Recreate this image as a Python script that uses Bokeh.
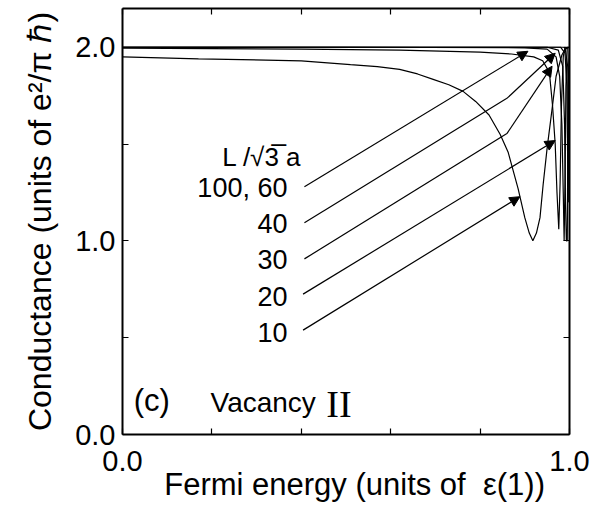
from bokeh.plotting import figure
from bokeh.models import (Range1d, FixedTicker, LinearAxis, PrintfTickFormatter,
                          Label, Arrow, NormalHead, ColumnDataSource)
from bokeh.embed import file_html
from bokeh.resources import INLINE

# ---- data ----
E10 = [0.0, 0.17, 0.4, 0.51, 0.57, 0.62, 0.66, 0.695, 0.73, 0.762, 0.79, 0.82, 0.845, 0.863,
       0.885, 0.90, 0.91, 0.918, 0.926, 0.934, 0.941, 0.95, 0.961, 0.97, 0.983, 0.99, 1.0]
G10 = [1.95, 1.94, 1.93, 1.91, 1.90, 1.886, 1.862, 1.834, 1.806, 1.772, 1.72, 1.65, 1.549, 1.456,
       1.27, 1.12, 1.04, 1.0, 1.04, 1.12, 1.29, 1.48, 1.68, 1.85, 1.96, 1.99, 2.0]

E20 = [0.0, 0.2, 0.4, 0.62, 0.8, 0.87, 0.92, 0.94, 0.955, 0.962, 0.968, 0.972, 0.976,
       0.979, 0.982, 0.986, 0.99, 1.0]
G20 = [1.995, 1.993, 1.99, 1.985, 1.975, 1.965, 1.95, 1.93, 1.87, 1.70, 1.50, 1.25, 1.06,
       1.30, 1.70, 1.95, 2.0, 2.0]

E30 = [0.0, 0.5, 0.9, 0.95, 0.97, 0.978, 0.983, 0.986, 0.988, 0.990, 0.992, 0.995, 1.0]
G30 = [2.0, 2.0, 1.997, 1.99, 1.95, 1.85, 1.60, 1.25, 1.0, 1.30, 1.80, 2.0, 2.0]

E40 = [0.0, 0.5, 0.95, 0.975, 0.985, 0.989, 0.991, 0.993, 0.995, 0.997, 1.0]
G40 = [2.0, 2.0, 2.0, 1.985, 1.9, 1.6, 1.2, 1.0, 1.0, 1.8, 2.0]

E60 = [0.0, 0.5, 0.98, 0.99, 0.994, 0.996, 0.997, 0.998, 0.999, 1.0]
G60 = [2.0, 2.0, 2.0, 1.97, 1.8, 1.4, 1.2, 1.5, 1.9, 2.0]

E100 = [0.0, 0.5, 0.99, 0.996, 0.998, 0.999, 0.9995, 1.0]
G100 = [2.0, 2.0, 2.0, 1.9, 1.5, 1.2, 1.6, 2.0]

# annotation labels (L / sqrt(3) a) and their arrows
size_labels = ["100, 60", "40", "30", "20", "10"]
label_x = [0.369, 0.369, 0.369, 0.369, 0.369]
label_y = [1.275, 1.088, 0.902, 0.715, 0.528]
arrow_x0 = [0.407, 0.407, 0.407, 0.404, 0.404]
arrow_y0 = [1.280, 1.093, 0.907, 0.725, 0.539]
kink_x = [None, 0.860, 0.860, None, None]
kink_y = [None, 1.736, 1.554, None, None]
tip_x = [0.907, 0.968, 0.961, 0.968, 0.889]
tip_y = [1.979, 1.969, 1.902, 1.518, 1.228]

x_major = [0.0, 1.0]
x_minor = [0.2, 0.4, 0.6, 0.8]
y_major = [0.0, 1.0, 2.0]
y_minor = [0.5, 1.5]

FONT = "Liberation Sans"
NB = "\u00a0"

p = figure(width=593, height=508, output_backend="svg", toolbar_location=None,
           x_range=Range1d(0, 1.0), y_range=Range1d(0, 2.2),
           min_border_left=122, min_border_top=8, min_border_right=24, min_border_bottom=74,
           x_axis_label=NB * 2 + "Fermi energy (units of " + NB + "ε(1))",
           y_axis_label="Conductance (units of e²/π ℏ)")
p.grid.visible = False
p.outline_line_color = None
p.background_fill_color = "white"
p.border_fill_color = "white"

bottom_ax = p.below[0]
left_ax = p.left[0]
top_ax = LinearAxis(ticker=FixedTicker(ticks=[], minor_ticks=x_major + x_minor))
right_ax = LinearAxis(ticker=FixedTicker(ticks=[], minor_ticks=y_major + y_minor))
p.add_layout(top_ax, "above")
p.add_layout(right_ax, "right")

bottom_ax.ticker = FixedTicker(ticks=x_major, minor_ticks=x_minor)
left_ax.ticker = FixedTicker(ticks=y_major, minor_ticks=y_minor)

for ax in [bottom_ax, left_ax, top_ax, right_ax]:
    ax.formatter = PrintfTickFormatter(format="%.1f")
    ax.axis_line_width = 2
    ax.axis_line_color = "black"
    ax.major_tick_in = 6
    ax.major_tick_out = 0
    ax.minor_tick_in = 6
    ax.minor_tick_out = 0
    ax.major_tick_line_width = 1.2
    ax.minor_tick_line_width = 1.2
    ax.major_label_text_font = FONT
    ax.major_label_text_font_size = "29px"
    ax.major_label_text_color = "black"
    ax.axis_label_text_font = FONT
    ax.axis_label_text_font_style = "normal"
    ax.axis_label_text_font_size = "32px"
    ax.axis_label_text_color = "black"

bottom_ax.axis_label_text_font_size = "31px"
top_ax.major_label_standoff = 0
right_ax.major_label_standoff = 0

bottom_ax.major_label_standoff = 16
bottom_ax.axis_label_standoff = -7
left_ax.major_label_standoff = 7
left_ax.axis_label_standoff = 14

# curves
for E, G in [(E10, G10), (E20, G20), (E30, G30), (E40, G40), (E60, G60), (E100, G100)]:
    p.line(E, G, line_color="black", line_width=1.2)

# arrows
seg_x0 = [arrow_x0[i] for i in range(5) if kink_x[i] is not None]
seg_y0 = [arrow_y0[i] for i in range(5) if kink_x[i] is not None]
seg_x1 = [kink_x[i] for i in range(5) if kink_x[i] is not None]
seg_y1 = [kink_y[i] for i in range(5) if kink_x[i] is not None]
p.segment(seg_x0, seg_y0, seg_x1, seg_y1, line_color="black", line_width=1.2)

ax0 = [kink_x[i] if kink_x[i] is not None else arrow_x0[i] for i in range(5)]
ay0 = [kink_y[i] if kink_y[i] is not None else arrow_y0[i] for i in range(5)]
asrc = ColumnDataSource(dict(x0=ax0, y0=ay0, x1=tip_x, y1=tip_y))
p.add_layout(Arrow(source=asrc, x_start="x0", y_start="y0", x_end="x1", y_end="y1",
                   line_color="black", line_width=1.2,
                   end=NormalHead(size=10, fill_color="black", line_color="black", line_width=1)))

for t, x, y in zip(size_labels, label_x, label_y):
    p.add_layout(Label(x=x, y=y, text=t, text_align="right", text_baseline="middle",
                       text_font=FONT, text_font_size="27px", text_color="black"))

p.add_layout(Label(x=0.223, y=1.435, text="L /√3\u0305 a", text_align="left",
                   text_baseline="alphabetic", text_font=FONT, text_font_size="26px",
                   text_color="black"))

p.add_layout(Label(x=0.025, y=0.176, text="(c)", text_align="left",
                   text_baseline="alphabetic", text_font=FONT, text_font_size="31px",
                   text_color="black"))
p.add_layout(Label(x=0.197, y=0.165, text="Vacancy", text_align="left",
                   text_baseline="alphabetic", text_font=FONT, text_font_size="28px",
                   text_color="black"))
p.add_layout(Label(x=0.456, y=0.160, text="II", text_align="left",
                   text_baseline="alphabetic", text_font="Liberation Serif",
                   text_font_size="38px", text_color="black"))

open("out.html", "w").write(file_html(p, INLINE))
